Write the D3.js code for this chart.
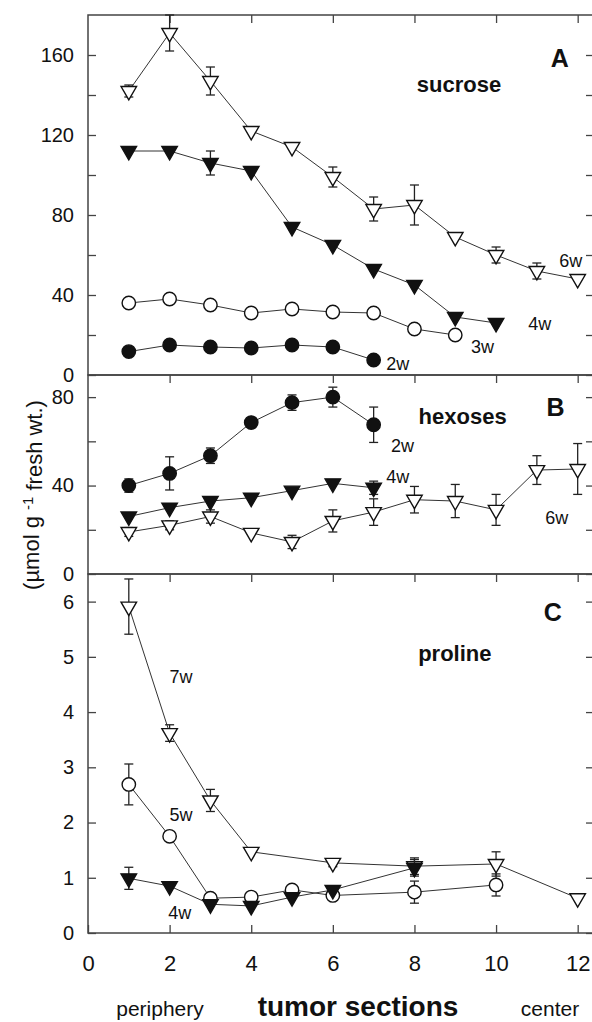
<!DOCTYPE html>
<html>
<head>
<meta charset="utf-8">
<script src="https://cdn.jsdelivr.net/npm/d3@7"></script>
<style>
  body { margin: 0; background: #fff; }
  svg { display: block; font-family: "Liberation Sans", Arial, sans-serif; }
</style>
</head>
<body>
<svg width="592" height="1022"></svg>
<script>
// ---- data ----
// A: sucrose
const sucX6w = [1, 2, 3, 4, 5, 6, 7, 8, 9, 10, 11, 12];
const suc6w = [142, 171, 147, 122, 114, 99, 83, 85, 69, 60, 52, 48];
const suc6wErr = [3, 9, 7, 0, 0, 5, 6, 10, 0, 4, 4, 0];
const sucX4w = [1, 2, 3, 4, 5, 6, 7, 8, 9, 10];
const suc4w = [112, 112, 106, 102, 74, 65, 53, 45, 29, 26];
const suc4wErr = [0, 0, 6, 0, 0, 0, 0, 0, 0, 0];
const sucX3w = [1, 2, 3, 4, 5, 6, 7, 8, 9];
const suc3w = [36, 38, 35, 31, 33, 31.5, 31, 23, 20];
const sucX2w = [1, 2, 3, 4, 5, 6, 7];
const suc2w = [11.7, 15, 14, 13.5, 15, 14, 7.5];

// B: hexoses
const hexX2w = [1, 2, 3, 4, 5, 6, 7];
const hex2w = [40, 45.5, 53.5, 68.5, 77.5, 80, 67.5];
const hex2wErr = [3, 7.5, 3.5, 0, 3.5, 4.5, 8];
const hexX4w = [1, 2, 3, 4, 5, 6, 7];
const hex4w = [26, 30, 33, 34.5, 37.7, 41, 39];
const hex4wErr = [0, 0, 0, 0, 0, 0, 3];
const hexX6w = [1, 2, 3, 4, 5, 6, 7, 8, 9, 10, 11, 12];
const hex6w = [19, 22, 26, 18.6, 14.5, 24, 28, 33.6, 33, 29, 47, 47.5];
const hex6wErr = [2, 2, 3, 0, 3, 5, 6, 6, 7.5, 7, 6.5, 11.5];

// C: proline
const proX7w = [1, 2, 3, 4, 6, 8, 10, 12];
const pro7w = [5.91, 3.62, 2.40, 1.47, 1.27, 1.21, 1.25, 0.63];
const pro7wErr = [0.5, 0.15, 0.2, 0, 0.07, 0.15, 0.22, 0];
const proX5w = [1, 2, 3, 4, 5, 6, 8, 10];
const pro5w = [2.69, 1.75, 0.63, 0.65, 0.78, 0.68, 0.74, 0.87];
const pro5wErr = [0.37, 0, 0, 0, 0.07, 0.07, 0.2, 0.2];
const proX4w = [1, 2, 3, 4, 5, 6, 8];
const pro4w = [0.99, 0.85, 0.52, 0.49, 0.65, 0.78, 1.18];
const pro4wErr = [0.2, 0, 0, 0, 0, 0, 0.15];

// tick values
const xTicks = [0, 2, 4, 6, 8, 10, 12];
const sucTicks = [0, 40, 80, 120, 160];
const sucMinor = [20, 60, 100, 140];
const hexTicks = [0, 40, 80];
const hexMinor = [20, 60];
const proTicks = [0, 1, 2, 3, 4, 5, 6];

const svg = d3.select('svg');
const axisColor = '#444';

const x = d3.scaleLinear().domain([0, 12.4]).range([88, 594]);

const zip = (xs, ys, es) => xs.map((v, i) => ({x: v, y: ys[i], e: es ? es[i] : 0}));

const panels = [
  {
    top: 15, bottom: 375, max: 180, ticks: sucTicks, minor: sucMinor,
    name: 'sucrose', letter: 'A', namePos: [9.09, 145.5], letterPos: [11.56, 158.5],
    series: [
      {pts: zip(sucX2w, suc2w), shape: 'circle', fill: true},
      {pts: zip(sucX3w, suc3w), shape: 'circle', fill: false},
      {pts: zip(sucX4w, suc4w, suc4wErr), shape: 'tri', fill: true},
      {pts: zip(sucX6w, suc6w, suc6wErr), shape: 'tri', fill: false}
    ],
    notes: [['6w', 11.83, 57], ['4w', 11.07, 25.5], ['3w', 9.67, 14], ['2w', 7.59, 5.5]]
  },
  {
    top: 375, bottom: 574, max: 90, ticks: hexTicks, minor: hexMinor,
    name: 'hexoses', letter: 'B', namePos: [9.18, 71.4], letterPos: [11.46, 75.5],
    series: [
      {pts: zip(hexX6w, hex6w, hex6wErr), shape: 'tri', fill: false},
      {pts: zip(hexX4w, hex4w, hex4wErr), shape: 'tri', fill: true},
      {pts: zip(hexX2w, hex2w, hex2wErr), shape: 'circle', fill: true}
    ],
    notes: [['2w', 7.71, 58.2], ['4w', 7.59, 44.1], ['6w', 11.49, 25.5]]
  },
  {
    top: 574, bottom: 933, max: 6.5, ticks: proTicks, minor: [],
    name: 'proline', letter: 'C', namePos: [8.99, 5.07], letterPos: [11.39, 5.81],
    series: [
      {pts: zip(proX7w, pro7w, pro7wErr), shape: 'tri', fill: false},
      {pts: zip(proX5w, pro5w, pro5wErr), shape: 'circle', fill: false},
      {pts: zip(proX4w, pro4w, pro4wErr), shape: 'tri', fill: true}
    ],
    notes: [['7w', 2.28, 4.64], ['5w', 2.28, 2.14], ['4w', 2.25, 0.36]]
  }
];

const tri = d3.symbol().type(d3.symbolTriangle).size(104);

const styleAxis = g => {
  g.select('.domain').remove();
  g.selectAll('.tick line').attr('stroke', axisColor).attr('stroke-width', 1.3);
  g.selectAll('.tick text').attr('fill', '#111');
};

panels.forEach((p, pi) => {
  const y = d3.scaleLinear().domain([0, p.max]).range([p.bottom, p.top]);
  const g = svg.append('g');

  // left axis with labels
  g.append('g').attr('transform', `translate(${x(0)},0)`)
    .call(d3.axisLeft(y).tickValues(p.ticks).tickSize(-8).tickPadding(14).tickFormat(d3.format('d')))
    .call(styleAxis)
    .selectAll('text').attr('font-size', 20).attr('font-family', null);
  if (p.minor.length) {
    g.append('g').attr('transform', `translate(${x(0)},0)`)
      .call(d3.axisLeft(y).tickValues(p.minor).tickSize(-8).tickFormat(''))
      .call(styleAxis);
  }
  // right ticks
  g.append('g').attr('transform', `translate(${x(12.4)},0)`)
    .call(d3.axisRight(y).tickValues(p.ticks.concat(p.minor)).tickSize(-8).tickFormat(''))
    .call(styleAxis);
  // top ticks
  g.append('g').attr('transform', `translate(0,${p.top})`)
    .call(d3.axisTop(x).tickValues(xTicks.slice(1)).tickSize(-8).tickFormat(''))
    .call(styleAxis);

  // frame
  g.append('rect')
    .attr('x', x(0)).attr('y', p.top)
    .attr('width', x(12.4) - x(0)).attr('height', p.bottom - p.top)
    .attr('fill', 'none').attr('stroke', axisColor).attr('stroke-width', 1.5);

  // bottom axis only on last panel
  if (pi === panels.length - 1) {
    g.append('g').attr('transform', `translate(0,${p.bottom})`)
      .call(d3.axisBottom(x).tickValues(xTicks).tickSize(-8).tickPadding(22))
      .call(styleAxis)
      .selectAll('text').attr('font-size', 22).attr('font-family', null);
  }

  const line = d3.line().x(d => x(d.x)).y(d => y(d.y));

  p.series.forEach(s => {
    g.append('path').datum(s.pts)
      .attr('d', line)
      .attr('fill', 'none')
      .attr('stroke', '#333')
      .attr('stroke-width', 1);
  });

  p.series.forEach(s => {
    const eb = g.append('g').attr('stroke', '#222').attr('stroke-width', 1.3);
    s.pts.filter(d => d.e > 0).forEach(d => {
      const hi = y(Math.min(d.y + d.e, p.max)), lo = y(d.y - d.e), cx = x(d.x);
      eb.append('line').attr('x1', cx).attr('x2', cx).attr('y1', hi).attr('y2', lo);
      if (d.y + d.e <= p.max) eb.append('line').attr('x1', cx - 4.5).attr('x2', cx + 4.5).attr('y1', hi).attr('y2', hi);
      eb.append('line').attr('x1', cx - 4.5).attr('x2', cx + 4.5).attr('y1', lo).attr('y2', lo);
    });

    const m = g.append('g')
      .attr('fill', s.fill ? '#111' : '#fff')
      .attr('stroke', '#111')
      .attr('stroke-width', 1.4);
    if (s.shape === 'circle') {
      m.selectAll('circle').data(s.pts).enter().append('circle')
        .attr('cx', d => x(d.x)).attr('cy', d => y(d.y)).attr('r', 6.7);
    } else {
      m.selectAll('path').data(s.pts).enter().append('path')
        .attr('d', tri)
        .attr('transform', d => `translate(${x(d.x)},${y(d.y)}) rotate(180)`);
    }
  });

  // annotations
  g.append('text')
    .attr('x', x(p.namePos[0])).attr('y', y(p.namePos[1]))
    .attr('dy', '0.35em').attr('text-anchor', 'middle')
    .attr('font-size', 22).attr('font-weight', 'bold').attr('fill', '#111')
    .text(p.name);
  g.append('text')
    .attr('x', x(p.letterPos[0])).attr('y', y(p.letterPos[1]))
    .attr('dy', '0.35em').attr('text-anchor', 'middle')
    .attr('font-size', 25).attr('font-weight', 'bold').attr('fill', '#111')
    .text(p.letter);
  p.notes.forEach(n => {
    g.append('text')
      .attr('x', x(n[1])).attr('y', y(n[2]))
      .attr('dy', '0.35em').attr('text-anchor', 'middle')
      .attr('font-size', 18).attr('fill', '#111')
      .text(n[0]);
  });
});

// y axis title
const yTitle = svg.append('text')
  .attr('transform', 'translate(31,495) rotate(-90)')
  .attr('text-anchor', 'middle')
  .attr('dy', '0.35em')
  .attr('font-size', 22).attr('fill', '#111');
yTitle.append('tspan').text('(µmol g ');
yTitle.append('tspan').attr('dy', '-0.4em').attr('font-size', 15).text('-1');
yTitle.append('tspan').attr('dy', '0.4em').text(' fresh wt.)');

// x axis title and ends
svg.append('text')
  .attr('x', 358).attr('y', 1016).attr('text-anchor', 'middle')
  .attr('font-size', 28).attr('font-weight', 'bold').attr('fill', '#111')
  .text('tumor sections');
svg.append('text')
  .attr('x', 160).attr('y', 1016).attr('text-anchor', 'middle')
  .attr('font-size', 21).attr('fill', '#111')
  .text('periphery');
svg.append('text')
  .attr('x', 550).attr('y', 1016).attr('text-anchor', 'middle')
  .attr('font-size', 21).attr('fill', '#111')
  .text('center');
</script>
</body>
</html>
